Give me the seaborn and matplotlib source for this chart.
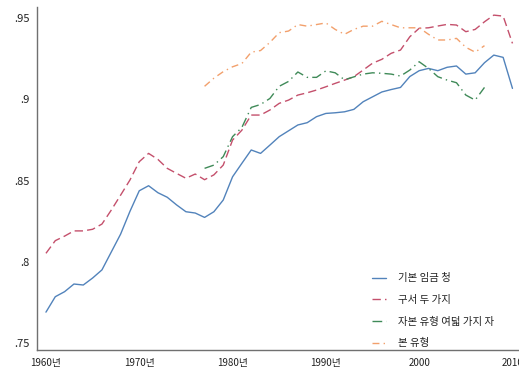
import numpy as np
import pandas as pd
import matplotlib
matplotlib.use("Agg")
import matplotlib.pyplot as plt
import seaborn as sns
from matplotlib.ticker import FixedLocator, FixedFormatter

years_full = list(range(1960, 2011))
years_part = list(range(1977, 2008))

s1_name = "기본 임금 청"
s2_name = "구서 두 가지"
s3_name = "자본 유형 여덟 가지 자"
s4_name = "본 유형"

s1 = [0.769, 0.7785, 0.7816, 0.7863, 0.7857, 0.790, 0.795, 0.806, 0.817, 0.831,
      0.8437, 0.8468, 0.8425, 0.8397, 0.835, 0.8308, 0.830, 0.8273, 0.8308, 0.838,
      0.8523, 0.8606, 0.8688, 0.8667, 0.8718, 0.877, 0.8806, 0.8842, 0.8856, 0.8893,
      0.8913, 0.8917, 0.8923, 0.8938, 0.8985, 0.9015, 0.9045, 0.906, 0.9073, 0.914,
      0.9176, 0.919, 0.9176, 0.9197, 0.9205, 0.9155, 0.9163, 0.9225, 0.9272, 0.9258,
      0.9067]
s2 = [0.8052, 0.813, 0.8158, 0.819, 0.819, 0.820, 0.8232, 0.8318, 0.841, 0.8503,
      0.8616, 0.8667, 0.863, 0.8575, 0.8544, 0.8514, 0.854, 0.8505, 0.8535, 0.8595,
      0.8749, 0.881, 0.8903, 0.8903, 0.8934, 0.8975, 0.8995, 0.9026, 0.904, 0.9057,
      0.9077, 0.9098, 0.9118, 0.9139, 0.918, 0.9222, 0.9246, 0.9283, 0.9303, 0.9385,
      0.9437, 0.944, 0.9451, 0.9461, 0.9457, 0.9416, 0.943, 0.9477, 0.9518, 0.9512,
      0.9344]
s3 = [0.8575, 0.8595, 0.8647, 0.877, 0.8827, 0.895, 0.8968, 0.9005, 0.908, 0.911,
      0.9168, 0.9135, 0.9135, 0.9175, 0.9163, 0.912, 0.9138, 0.9155, 0.9163, 0.916,
      0.9155, 0.9143, 0.918, 0.9231, 0.919, 0.9139, 0.9118, 0.9102, 0.9026, 0.8995,
      0.9073]
s4 = [0.908, 0.913, 0.917, 0.920, 0.922, 0.929, 0.930, 0.935, 0.941, 0.942,
      0.946, 0.945, 0.946, 0.947, 0.943, 0.940, 0.943, 0.945, 0.945, 0.948,
      0.946, 0.944, 0.944, 0.944, 0.940, 0.9365, 0.9365, 0.9375, 0.932, 0.929,
      0.933]

yticks = [0.75, 0.80, 0.85, 0.90, 0.95]
ytick_labels = [".75", ".8", ".85", ".9", ".95"]
xticks = [1960, 1970, 1980, 1990, 2000, 2010]
xtick_labels = ["1960년", "1970년", "1980년", "1990년", "2000", "2010"]

df = pd.concat([
    pd.DataFrame({"year": years_full, "value": s1, "series": s1_name}),
    pd.DataFrame({"year": years_full, "value": s2, "series": s2_name}),
    pd.DataFrame({"year": years_part, "value": s3, "series": s3_name}),
    pd.DataFrame({"year": years_part, "value": s4, "series": s4_name}),
], ignore_index=True)

sns.set_style("white")
plt.rcParams["font.family"] = ["Noto Sans CJK KR", "DejaVu Sans"]

palette = {s1_name: "#5283bb", s2_name: "#c4506c", s3_name: "#3f8a58", s4_name: "#f2a06c"}
dashes = {s1_name: "", s2_name: (6, 3), s3_name: (7, 3, 1, 3), s4_name: (5, 3, 1, 3)}

fig = plt.figure(figsize=(5.19, 3.74), dpi=100)
ax = fig.add_axes([37/519, 1 - 350/374, 1 - 37/519, (350 - 7)/374])

sns.lineplot(data=df, x="year", y="value", hue="series", style="series",
             palette=palette, dashes=dashes, linewidth=1.0, ax=ax,
             hue_order=[s1_name, s2_name, s3_name, s4_name],
             style_order=[s1_name, s2_name, s3_name, s4_name])

ax.set_xlim(1959.04, 2010.70)
ax.set_ylim(0.7457, 0.9568)
ax.xaxis.set_major_locator(FixedLocator(xticks))
ax.xaxis.set_major_formatter(FixedFormatter(xtick_labels))
ax.yaxis.set_major_locator(FixedLocator(yticks))
ax.yaxis.set_major_formatter(FixedFormatter(ytick_labels))
ax.set_xlabel("")
ax.set_ylabel("")
for side in ["top", "right"]:
    ax.spines[side].set_visible(False)
for side in ["left", "bottom"]:
    ax.spines[side].set_color("#707070")
    ax.spines[side].set_linewidth(1.0)
ax.tick_params(axis="both", direction="out", length=4, width=0.8, color="#707070",
               labelcolor="#222222")
ax.tick_params(axis="y", labelsize=8, pad=1.5)
ax.tick_params(axis="x", labelsize=7, pad=2)
ax.grid(False)

leg = ax.legend(loc="upper left", bbox_to_anchor=(365/519, 1 - 266/374),
                bbox_transform=fig.transFigure, frameon=False, fontsize=7.5,
                handlelength=1.3, handletextpad=1.2, labelspacing=1.12,
                borderpad=0.2)
for t in leg.get_texts():
    t.set_color("#222222")

fig.savefig("out.png", dpi=100)
